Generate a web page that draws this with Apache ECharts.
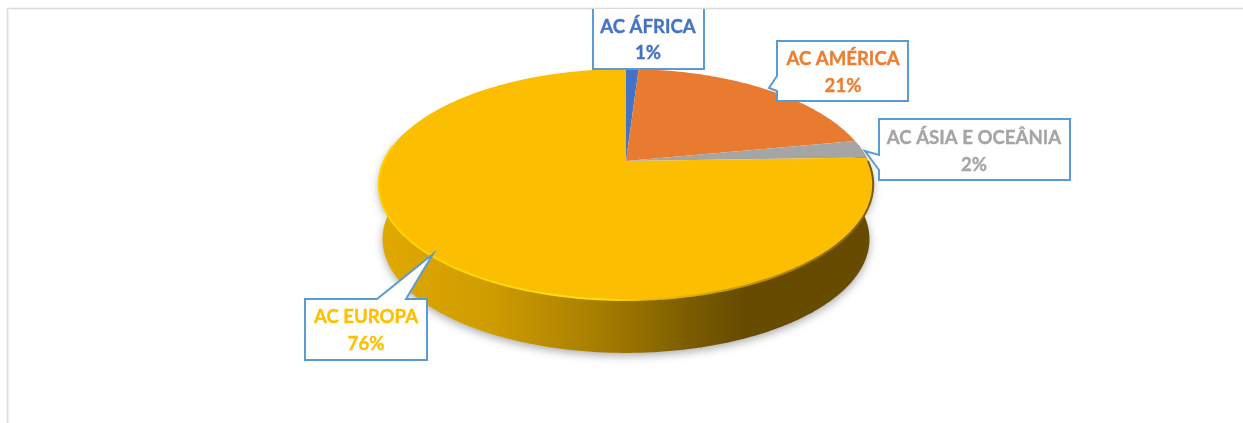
<!DOCTYPE html>
<html><head><meta charset="utf-8">
<style>html,body{margin:0;padding:0;background:#fff}#c{width:1243px;height:423px}</style>
<script src="https://cdn.jsdelivr.net/npm/echarts@6/dist/echarts.min.js"></script>
</head><body><div id="c"></div>
<script>
const names = ['AC ÁFRICA', 'AC AMÉRICA', 'AC ÁSIA E OCEÂNIA', 'AC EUROPA'];
const values = [1.0, 21.0, 2.49, 75.51];
const colors = ['#4472C4', '#E97B31', '#A5A5A5', '#FBBE00'];
const textColors = ['#4472C4', '#ED7D31', '#A5A5A5', '#FFC000'];

// Tilted-disc projection
const view = {cx: 626, cy: 161, A: 242, B: 110.7, k: -0.2035, depth: 55, sideScale: 0.985};
const total = values.reduce((a, b) => a + b, 0);
const starts = []; values.reduce((s, v, i) => (starts[i] = s, s + v), 0);
const toAngle = v => v / total * 2 * Math.PI;
function proj(t, dy = 0, s = 1) {
  const u = Math.sin(t), v = -Math.cos(t), d = 1 + view.k * v;
  return [view.cx + s * view.A * u / d, view.cy + dy + s * view.B * v / d];
}
function arc(a0, a1, dy, s) {
  const n = Math.max(2, Math.ceil((a1 - a0) / 0.01)), p = [];
  for (let i = 0; i <= n; i++) p.push(proj(a0 + (a1 - a0) * i / n, dy, s));
  return p;
}
const FRONT0 = 80 * Math.PI / 180, FRONT1 = 285 * Math.PI / 180;
const RIM0 = 90 * Math.PI / 180, RIM1 = 278 * Math.PI / 180;

const sideGrad = {type: 'linear', global: true, x: 383, y: 0, x2: 745, y2: 0, colorStops: [
  {offset: 0, color: '#E0A900'}, {offset: .3, color: '#CF9C00'}, {offset: .6, color: '#A67D00'},
  {offset: .85, color: '#7A5C00'}, {offset: 1, color: '#664B00'}]};
const rimGrad = {type: 'linear', global: true, x: 379, y: 0, x2: 873, y2: 0, colorStops: [
  {offset: 0, color: '#FFD000'}, {offset: .45, color: '#FFDF10'}, {offset: .52, color: '#F5C400'},
  {offset: .8, color: '#B88A00'}, {offset: 1, color: '#7A5C00'}]};

function renderSlice(params, api) {
  const i = params.dataIndex, a0 = toAngle(starts[i]), a1 = a0 + toAngle(api.value(0));
  const kids = [];
  const f0 = Math.max(a0, FRONT0), f1 = Math.min(a1, FRONT1);
  if (f1 > f0) {
    const top = arc(f0, f1, 0, 1), bot = arc(f0, f1, view.depth, view.sideScale).reverse();
    kids.push({type: 'polygon', z2: 1, shape: {points: top.concat(bot)},
      style: {fill: sideGrad, shadowBlur: 8, shadowColor: 'rgba(0,0,0,.32)', shadowOffsetY: 3}});
  }
  kids.push({type: 'polygon', z2: 2, shape: {points: [[view.cx, view.cy]].concat(arc(a0, a1, 0, 1))},
    style: {fill: colors[i]}});
  const r0 = Math.max(a0, RIM0), r1 = Math.min(a1, RIM1);
  if (r1 > r0) {
    kids.push({type: 'polyline', z2: 3, shape: {points: arc(r0, r1, 0, 1)},
      style: {stroke: rimGrad, lineWidth: 2, fill: 'none'}});
  }
  return {type: 'group', children: kids};
}

// Callout layout: outline, leader tip handled in the outline, text centres
const callouts = [
  {pts: [[593, 9], [593, 69], [704, 69], [704, 9]], open: true, tx: 648, ty: [27, 53]},
  {pts: [[777, 41], [908, 41], [908, 101], [777, 101], [777, 91], [769, 88], [777, 76]], tx: 843, ty: [59, 86]},
  {pts: [[879, 119], [1070, 119], [1070, 180], [879, 180], [879, 170], [865, 151], [879, 155]], tx: 974, ty: [138, 165]},
  {pts: [[305, 299], [377, 299], [433, 254], [406, 299], [427, 299], [427, 360], [305, 360]], tx: 366, ty: [317, 344]}
];
function renderCallout(params, api) {
  const i = params.dataIndex, c = callouts[i];
  const pct = Math.round(api.value(0) / total * 100) + '%';
  const font = 'bold 18.6px Lato, "Open Sans", sans-serif';
  const txt = (t, y) => ({type: 'text', z2: 3, style: {text: t, x: c.tx, y, fill: textColors[i], stroke: textColors[i], lineWidth: 0.35, font, align: 'center', verticalAlign: 'middle'}});
  const line = c.open ? {type: 'polyline', shape: {points: c.pts}} : {type: 'polygon', shape: {points: c.pts}};
  line.z2 = 2; line.style = {fill: 'none', stroke: '#5B9BD5', lineWidth: 2, lineJoin: 'miter'};
  return {type: 'group', children: [
    {type: 'polygon', z2: 1, shape: {points: c.pts}, style: {fill: '#fff'}},
    line, txt(names[i], c.ty[0]), txt(pct, c.ty[1])]};
}

const chart = echarts.init(document.getElementById('c'), null, {renderer: 'canvas'});
const data = values.map(v => [v]);
chart.setOption({
  animation: false,
  backgroundColor: '#fff',
  graphic: [
    {type: 'line', shape: {x1: 7, y1: 8.5, x2: 1243, y2: 8.5}, style: {stroke: '#DADADA', lineWidth: 1.5}},
    {type: 'line', shape: {x1: 7.5, y1: 8, x2: 7.5, y2: 423}, style: {stroke: '#E2E2E2', lineWidth: 2}}
  ],
  series: [
    {type: 'custom', coordinateSystem: 'none', z: 2, silent: true, data, renderItem: renderSlice},
    {type: 'custom', coordinateSystem: 'none', z: 3, silent: true, data, renderItem: renderCallout}
  ]
});
</script></body></html>
